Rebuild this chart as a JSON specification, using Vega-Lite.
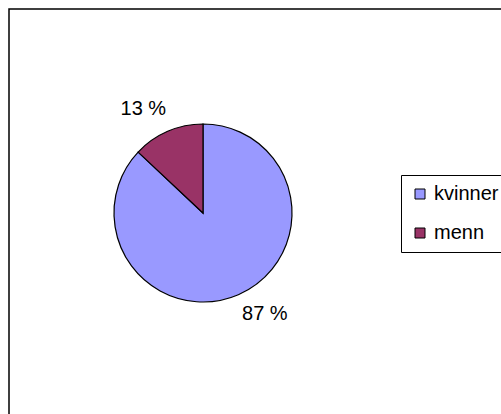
{
  "$schema": "https://vega.github.io/schema/vega-lite/v6.json",
  "width": 495,
  "height": 408,
  "autosize": {"type": "none"},
  "padding": {"left": 9, "top": 9, "right": -3, "bottom": -3},
  "background": "white",
  "config": {
    "view": {"stroke": "#000000", "strokeWidth": 1.5},
    "font": "Liberation Sans"
  },
  "data": {
    "values": [
      {"kategori": "kvinner", "andel": 87, "etikett": "87 %"},
      {"kategori": "menn", "andel": 13, "etikett": "13 %"}
    ]
  },
  "encoding": {
    "theta": {"field": "andel", "type": "quantitative", "stack": true},
    "order": {"field": "kategori", "sort": "ascending"},
    "x": {"value": 194},
    "y": {"value": 204}
  },
  "layer": [
    {
      "mark": {"type": "arc", "outerRadius": 89, "stroke": "#000000", "strokeWidth": 1.2},
      "encoding": {
        "color": {
          "field": "kategori",
          "type": "nominal",
          "scale": {"domain": ["kvinner", "menn"], "range": ["#9999FF", "#993366"]},
          "legend": {
            "title": null,
            "orient": "none",
            "legendX": 392,
            "legendY": 166,
            "strokeColor": "#000000",
            "padding": 9,
            "symbolType": "square",
            "symbolSize": 100,
            "symbolStrokeColor": "#000000",
            "symbolStrokeWidth": 1,
            "labelFontSize": 20,
            "labelFont": "Liberation Sans",
            "labelColor": "#000000",
            "labelOffset": 4,
            "rowPadding": 19
          }
        }
      }
    },
    {
      "mark": {"type": "text", "radius": 120, "dx": -12, "dy": 6, "fontSize": 20, "font": "Liberation Sans", "color": "#000000"},
      "encoding": {
        "detail": {"field": "kategori"},
        "text": {"condition": {"test": "datum.kategori == 'menn'", "field": "etikett"}, "value": ""}
      }
    },
    {
      "mark": {"type": "text", "radius": 118, "dx": 15, "dy": -7, "fontSize": 20, "font": "Liberation Sans", "color": "#000000"},
      "encoding": {
        "detail": {"field": "kategori"},
        "text": {"condition": {"test": "datum.kategori == 'kvinner'", "field": "etikett"}, "value": ""}
      }
    }
  ]
}
